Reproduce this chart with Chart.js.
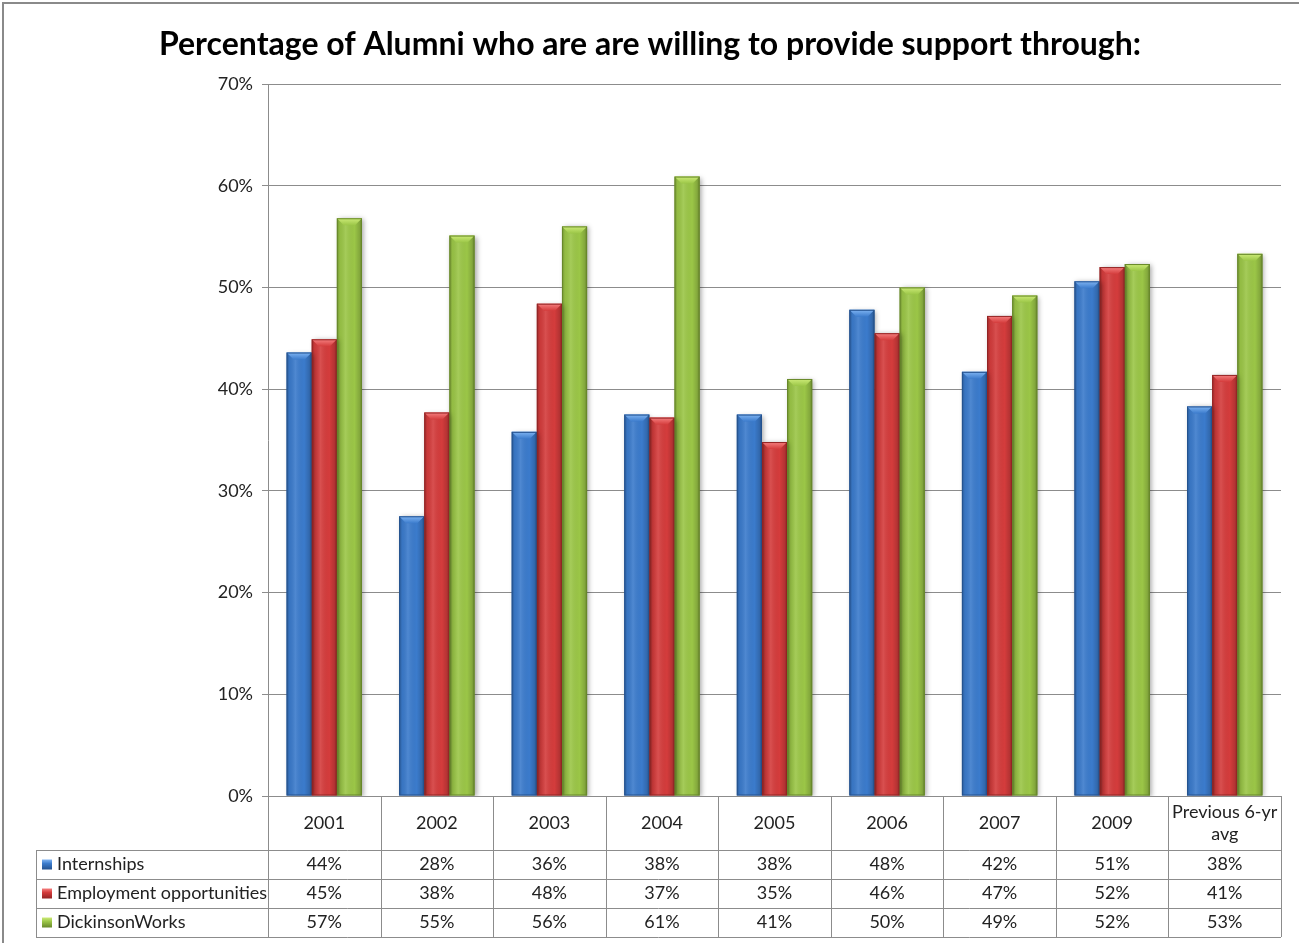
<!DOCTYPE html>
<html lang="en">
<head>
<meta charset="UTF-8">
<title>Alumni Support</title>
<script src="https://cdn.jsdelivr.net/npm/chart.js"></script>
<style>
    body { margin: 0; background: #ffffff; }
    #wrap { width: 1299px; height: 943px; }
</style>
</head>
<body>
<div id="wrap"><canvas id="alumniChart" width="1299" height="943"></canvas></div>
<script>
// Survey results, percent of alumni per year
var categories = ['2001', '2002', '2003', '2004', '2005', '2006', '2007', '2009', 'Previous 6-yr avg'];
var headerLines = [['2001'], ['2002'], ['2003'], ['2004'], ['2005'], ['2006'], ['2007'], ['2009'], ['Previous 6-yr', 'avg']];
var internships = [43.6, 27.5, 35.8, 37.5, 37.5, 47.8, 41.7, 50.6, 38.3];
var employment = [44.9, 37.7, 48.4, 37.2, 34.8, 45.5, 47.2, 52.0, 41.4];
var dickinsonWorks = [56.8, 55.1, 56.0, 60.9, 41.0, 50.0, 49.2, 52.3, 53.3];
var seriesNames = ['Internships', 'Employment opportunities', 'DickinsonWorks'];

var FONT = 'Lato';
var LINE = '#8c8c8c';

var palette = [
    { base: '#3b7bcc', light: '#7fb4f2', dark: '#24528f' },
    { base: '#d43c3c', light: '#f58080', dark: '#932424' },
    { base: '#9bc647', light: '#cdeb78', dark: '#67882a' }
];

// bevel look: side shading plus a lighter top face on every bar
var barShading = {
    id: 'barShading',
    beforeDatasetsDraw: function (chart) {
        var ctx = chart.ctx;
        ctx.save();
        ctx.shadowColor = 'rgba(0,0,0,0.35)';
        ctx.shadowBlur = 5;
        ctx.shadowOffsetX = 2;
        ctx.shadowOffsetY = 1;
    },
    afterDatasetsDraw: function (chart) {
        var ctx = chart.ctx;
        ctx.restore();
        chart.data.datasets.forEach(function (ds, di) {
            var meta = chart.getDatasetMeta(di);
            var col = palette[di];
            meta.data.forEach(function (bar) {
                var p = bar.getProps(['x', 'y', 'base', 'width'], true);
                var l = p.x - p.width / 2, r = p.x + p.width / 2;
                var g = ctx.createLinearGradient(l, 0, r, 0);
                g.addColorStop(0, 'rgba(0,0,0,0.28)');
                g.addColorStop(0.12, 'rgba(0,0,0,0.05)');
                g.addColorStop(0.35, 'rgba(255,255,255,0.10)');
                g.addColorStop(0.7, 'rgba(0,0,0,0.0)');
                g.addColorStop(0.9, 'rgba(0,0,0,0.15)');
                g.addColorStop(1, 'rgba(0,0,0,0.35)');
                ctx.fillStyle = g;
                ctx.fillRect(l, p.y, p.width, p.base - p.y);

                var b = 7;
                var tg = ctx.createLinearGradient(0, p.y, 0, p.y + b);
                tg.addColorStop(0, col.light);
                tg.addColorStop(1, col.base);
                ctx.fillStyle = tg;
                ctx.beginPath();
                ctx.moveTo(l, p.y);
                ctx.lineTo(r, p.y);
                ctx.lineTo(r - b, p.y + b);
                ctx.lineTo(l + b, p.y + b);
                ctx.closePath();
                ctx.fill();
                ctx.strokeStyle = col.dark;
                ctx.lineWidth = 1;
                ctx.strokeRect(l + 0.5, p.y + 0.5, p.width - 1, p.base - p.y - 1);
            });
        });
    }
};

// title, frame and the data table under the plot
var tableAndTitle = {
    id: 'tableAndTitle',
    afterDraw: function (chart) {
        var ctx = chart.ctx;
        var area = chart.chartArea;
        var xs = chart.scales.x;
        var n = categories.length;
        var cw = (area.right - area.left) / n;
        var top = area.bottom;
        var rowY = [850, 879, 908, 937];
        var tableLeft = 36;

        ctx.save();
        // frame
        ctx.strokeStyle = '#8a8a8a';
        ctx.lineWidth = 2;
        ctx.beginPath();
        ctx.moveTo(3, chart.height);
        ctx.lineTo(3, 3);
        ctx.lineTo(chart.width, 3);
        ctx.stroke();

        // title
        ctx.fillStyle = '#000000';
        ctx.font = 'bold 32px ' + FONT;
        ctx.textAlign = 'center';
        ctx.textBaseline = 'middle';
        ctx.fillText('Percentage of Alumni who are are willing to provide support through:', 650, 45);

        // grid of the table
        ctx.strokeStyle = LINE;
        ctx.lineWidth = 1;
        ctx.beginPath();
        for (var k = 0; k <= n; k++) {
            var bx = Math.round(area.left + k * cw) + 0.5;
            ctx.moveTo(bx, top);
            ctx.lineTo(bx, rowY[3]);
        }
        rowY.forEach(function (y) {
            ctx.moveTo(tableLeft, y + 0.5);
            ctx.lineTo(area.right, y + 0.5);
        });
        ctx.moveTo(tableLeft + 0.5, rowY[0]);
        ctx.lineTo(tableLeft + 0.5, rowY[3]);
        ctx.stroke();

        // category header
        ctx.fillStyle = '#222222';
        ctx.font = '18px ' + FONT;
        headerLines.forEach(function (lines, i) {
            var cx = xs.getPixelForValue(i);
            var mid = (top + rowY[0]) / 2;
            var lh = 22;
            var start = mid - (lines.length - 1) * lh / 2;
            lines.forEach(function (t, j) {
                ctx.fillText(t, cx, start + j * lh);
            });
        });

        // value rows with legend keys
        chart.data.datasets.forEach(function (ds, di) {
            var cy = (rowY[di] + rowY[di + 1]) / 2;
            var col = palette[di];
            var kg = ctx.createLinearGradient(0, cy - 5, 0, cy + 5);
            kg.addColorStop(0, col.light);
            kg.addColorStop(0.4, col.base);
            kg.addColorStop(1, col.dark);
            ctx.fillStyle = kg;
            ctx.fillRect(42, cy - 5, 10, 10);
            ctx.fillStyle = '#222222';
            ctx.textAlign = 'left';
            ctx.fillText(seriesNames[di], 57, cy);
            ctx.textAlign = 'center';
            ds.data.forEach(function (v, i) {
                ctx.fillText(Math.round(v) + '%', xs.getPixelForValue(i), cy);
            });
        });
        ctx.restore();
    }
};

var ctx = document.getElementById('alumniChart').getContext('2d');
new Chart(ctx, {
    type: 'bar',
    data: {
        labels: categories,
        datasets: [
            { label: seriesNames[0], data: internships, backgroundColor: palette[0].base },
            { label: seriesNames[1], data: employment, backgroundColor: palette[1].base },
            { label: seriesNames[2], data: dickinsonWorks, backgroundColor: palette[2].base }
        ]
    },
    options: {
        responsive: false,
        animation: false,
        datasets: { bar: { categoryPercentage: 0.67, barPercentage: 1.0 } },
        layout: { padding: { top: 84, right: 18, bottom: 147, left: 0 } },
        plugins: {
            legend: { display: false },
            title: { display: false },
            tooltip: { enabled: false }
        },
        scales: {
            x: { display: false },
            y: {
                min: 0,
                max: 70,
                ticks: {
                    stepSize: 10,
                    padding: 9,
                    color: '#222222',
                    font: { family: FONT, size: 18 },
                    callback: function (v) { return v + '%'; }
                },
                grid: { color: LINE, tickLength: 6 },
                border: { color: LINE },
                afterFit: function (scale) { scale.width = 268; }
            }
        }
    },
    plugins: [barShading, tableAndTitle]
});
</script>
</body>
</html>
